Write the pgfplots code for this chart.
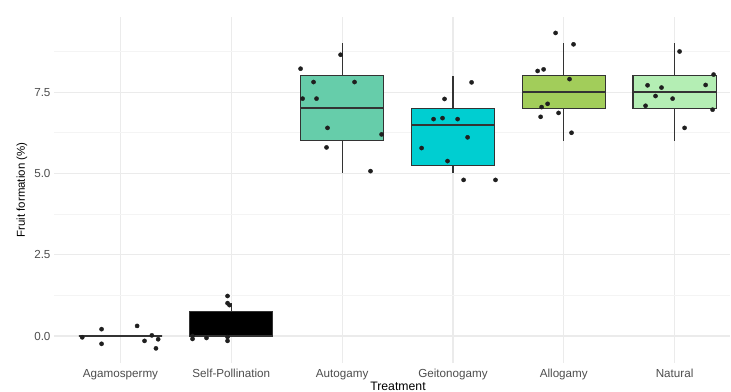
\documentclass[border=0pt]{standalone}
\usepackage{pgfplots}
\pgfplotsset{compat=1.18}
\usepgfplotslibrary{statistics}
\usepackage{fontspec}
\setmainfont{Liberation Sans}
\definecolor{gridmaj}{HTML}{EBEBEB}
\definecolor{gridmin}{HTML}{F4F4F4}
\definecolor{ticktext}{HTML}{4D4D4D}
\definecolor{boxline}{HTML}{333333}
\definecolor{cauto}{HTML}{66CDAA}
\definecolor{cgeit}{HTML}{00CED1}
\definecolor{callo}{HTML}{A2CD5A}
\definecolor{cnat}{HTML}{B4EEB4}
\definecolor{ptcol}{HTML}{1F1F1F}
\begin{document}
\begin{tikzpicture}
\useasboundingbox (0,0) rectangle (731bp,392bp);
\begin{axis}[
  at={(54bp,29bp)}, anchor=south west, scale only axis,
  width=676bp, height=346bp,
  xmin=0.4, xmax=6.5, ymin=-0.83, ymax=9.81,
  axis line style={draw=none},
  major tick length=0pt, minor tick length=0pt,
  xtick={1,2,3,4,5,6},
  xticklabels={Agamospermy,Self-Pollination,Autogamy,Geitonogamy,Allogamy,Natural},
  ytick={0,2.5,5,7.5}, yticklabels={0.0,2.5,5.0,7.5},
  minor ytick={1.25,3.75,6.25,8.75},
  grid=both,
  major grid style={draw=gridmaj, line width=1.1bp},
  minor grid style={draw=gridmin, line width=0.6bp},
  tick label style={font=\fontsize{11.7}{13}\selectfont, text=ticktext},
  xticklabel style={anchor=base, yshift=-14bp},
  boxplot/draw direction=y,
  boxplot/every median/.style={line width=2.2bp},
  clip=false,
]
% Agamospermy
\addplot[draw=boxline, line width=1.1bp, fill=white,
  boxplot prepared={median=0, upper quartile=0, lower quartile=0,
    upper whisker=0, lower whisker=0, draw position=1, box extend=0.75, whisker extend=0}]
  coordinates {};
% Self-Pollination
\addplot[draw=boxline, line width=1.1bp, fill=black,
  boxplot prepared={median=0, upper quartile=0.75, lower quartile=0,
    upper whisker=1.0, lower whisker=0, draw position=2, box extend=0.75, whisker extend=0}]
  coordinates {};
% Autogamy
\addplot[draw=boxline, line width=1.1bp, fill=cauto,
  boxplot prepared={median=7, upper quartile=8, lower quartile=6,
    upper whisker=9, lower whisker=5, draw position=3, box extend=0.75, whisker extend=0}]
  coordinates {};
% Geitonogamy
\addplot[draw=boxline, line width=1.1bp, fill=cgeit,
  boxplot prepared={median=6.5, upper quartile=7, lower quartile=5.25,
    upper whisker=8, lower whisker=5, draw position=4, box extend=0.75, whisker extend=0}]
  coordinates {};
% Allogamy
\addplot[draw=boxline, line width=1.1bp, fill=callo,
  boxplot prepared={median=7.5, upper quartile=8, lower quartile=7,
    upper whisker=9, lower whisker=6, draw position=5, box extend=0.75, whisker extend=0}]
  coordinates {};
% Natural
\addplot[draw=boxline, line width=1.1bp, fill=cnat,
  boxplot prepared={median=7.5, upper quartile=8, lower quartile=7,
    upper whisker=9, lower whisker=6, draw position=6, box extend=0.75, whisker extend=0}]
  coordinates {};
% jittered points
\addplot[only marks, mark=*, mark size=2.1bp, color=ptcol] coordinates {
 (0.655,-0.04) (0.829,0.21) (0.829,-0.24) (1.150,0.31) (1.217,-0.15)
 (1.283,0.02) (1.340,-0.10) (1.320,-0.38)
 (1.966,1.23) (1.966,1.01) (1.984,0.95) (1.650,-0.09) (1.776,-0.06)
 (1.966,-0.15) (1.966,-0.03) (1.650,0.0)
 (2.625,8.22) (2.742,7.81) (2.643,7.30) (2.769,7.30) (2.986,8.65)
 (3.112,7.81) (2.868,6.40) (2.859,5.80) (3.356,6.20) (3.256,5.07)
 (4.168,7.80) (3.924,7.29) (3.825,6.67) (3.906,6.70) (4.042,6.67)
 (4.132,6.11) (3.717,5.78) (3.951,5.38) (4.096,4.80) (4.384,4.80)
 (4.926,9.32) (5.088,8.97) (4.764,8.15) (4.818,8.20) (5.052,7.90)
 (4.854,7.14) (4.800,7.04) (4.791,6.74) (4.953,6.86) (5.070,6.25)
 (6.045,8.75) (6.352,8.04) (6.343,6.96) (6.280,7.72) (5.756,7.71)
 (5.882,7.64) (5.828,7.38) (5.982,7.30) (5.738,7.08) (6.090,6.40)
};
\end{axis}
\node[font=\fontsize{12.3}{14}\selectfont, anchor=north, inner sep=0pt] at (398bp,10.5bp) {Treatment};
\node[font=\fontsize{11.5}{14}\selectfont, rotate=90, anchor=center, inner sep=0pt] at (22bp,202bp) {Fruit formation (\%)};
\end{tikzpicture}
\end{document}
